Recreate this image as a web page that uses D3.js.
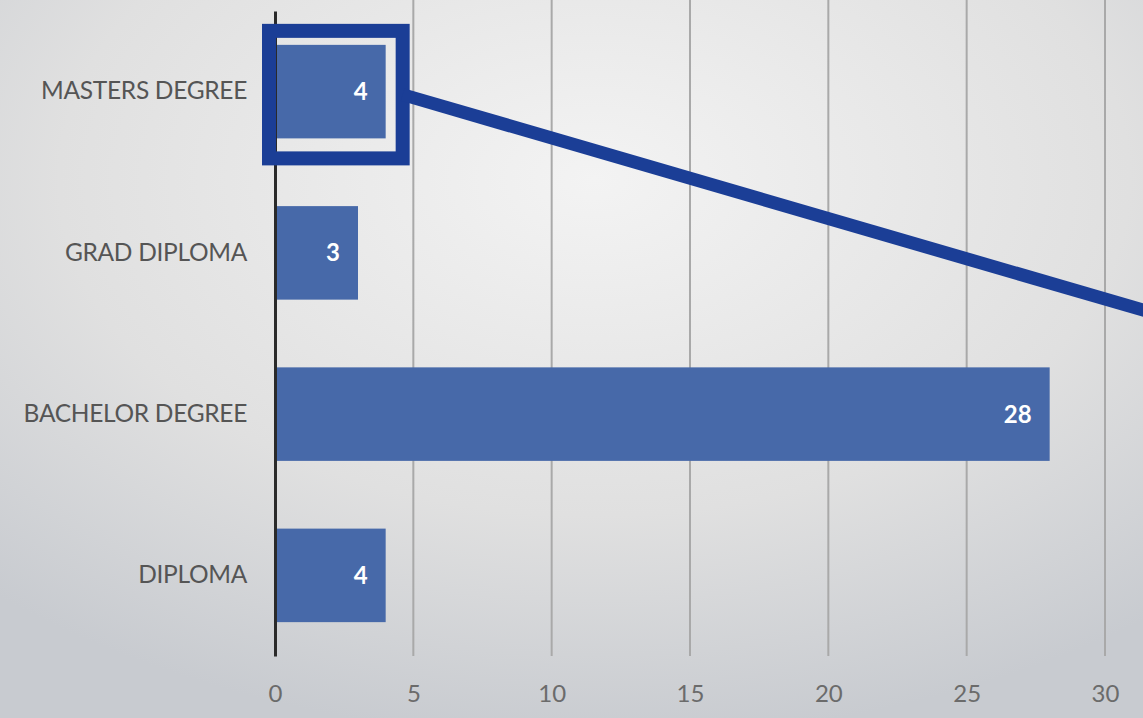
<!DOCTYPE html>
<html>
<head>
<meta charset="utf-8">
<script src="https://d3js.org/d3.v7.min.js"></script>
<style>
  html, body { margin: 0; padding: 0; overflow: hidden; }
  svg { display: block; }
</style>
</head>
<body>
<div id="chart"></div>
<script>
    // data
    var categories = ["MASTERS DEGREE", "GRAD DIPLOMA", "BACHELOR DEGREE", "DIPLOMA"];
    var counts = [4, 3, 28, 4];
    var xTicks = [0, 5, 10, 15, 20, 25, 30];
    var highlighted = "MASTERS DEGREE";

    var width = 1143, height = 718;
    var barColor = "#4769a9", markColor = "#1b3e96";

    const svg = d3.select("#chart").append("svg")
        .attr("width", width)
        .attr("height", height);

    // soft grey background like the slide
    const grad = svg.append("defs").append("radialGradient")
        .attr("id", "bg")
        .attr("cx", "52%").attr("cy", "25%").attr("r", "78%");
    grad.append("stop").attr("offset", "0%").attr("stop-color", "#f3f3f3");
    grad.append("stop").attr("offset", "60%").attr("stop-color", "#e0e0e0");
    grad.append("stop").attr("offset", "100%").attr("stop-color", "#c8cbd0");
    svg.append("rect")
        .attr("width", width).attr("height", height)
        .attr("fill", "url(#bg)");

    const x = d3.scaleLinear()
        .domain([0, 30])
        .range([275, 1105]);

    const y = d3.scaleBand()
        .domain(categories)
        .range([11, 656])
        .paddingInner(0.42)
        .paddingOuter(0.21);

    // vertical gridlines
    svg.append("g")
        .selectAll("line")
        .data(xTicks.filter(d => d > 0))
        .join("line")
        .attr("x1", d => x(d)).attr("x2", d => x(d))
        .attr("y1", 0).attr("y2", 656)
        .attr("stroke", "#a9a9a9")
        .attr("stroke-width", 2);

    // x tick labels
    const xAxis = svg.append("g")
        .attr("transform", "translate(0,685)")
        .call(d3.axisBottom(x).tickValues(xTicks).tickSize(0).tickPadding(0));
    xAxis.select(".domain").remove();
    xAxis.selectAll("text")
        .attr("font-family", "Lato, 'Open Sans', sans-serif")
        .attr("font-size", "24px")
        .attr("fill", "#6b6b6b");

    // bars
    svg.append("g")
        .selectAll("rect")
        .data(categories)
        .join("rect")
        .attr("x", x(0))
        .attr("y", d => y(d))
        .attr("width", (d, i) => x(counts[i]) - x(0))
        .attr("height", y.bandwidth())
        .attr("fill", barColor);

    // category axis
    const yAxis = svg.append("g")
        .attr("transform", `translate(${x(0)},0)`)
        .call(d3.axisLeft(y).tickSize(0).tickPadding(28));
    yAxis.select(".domain")
        .attr("stroke", "#2a2a2a")
        .attr("stroke-width", 3);
    yAxis.selectAll("text")
        .attr("font-family", "Lato, 'Open Sans', sans-serif")
        .attr("font-size", "24.5px")
        .attr("letter-spacing", "-0.3px")
        .attr("fill", "#555");

    // value labels
    svg.append("g")
        .selectAll("text")
        .data(categories)
        .join("text")
        .attr("x", (d, i) => x(counts[i]) - 18)
        .attr("y", d => y(d) + y.bandwidth() / 2)
        .attr("dy", "0.35em")
        .attr("text-anchor", "end")
        .attr("font-family", "Lato, 'Open Sans', sans-serif")
        .attr("font-weight", "bold")
        .attr("font-size", "24px")
        .attr("fill", "white")
        .text((d, i) => counts[i]);

    // highlight box + pointer line
    var hi = categories.indexOf(highlighted);
    var bx0 = x(0) - 6, bx1 = x(counts[hi]) + 17;
    var by0 = y(highlighted) - 14, by1 = y(highlighted) + y.bandwidth() + 20;
    svg.append("rect")
        .attr("x", bx0).attr("y", by0)
        .attr("width", bx1 - bx0).attr("height", by1 - by0)
        .attr("fill", "none")
        .attr("stroke", markColor)
        .attr("stroke-width", 14);
    svg.append("line")
        .attr("x1", bx1).attr("y1", (by0 + by1) / 2)
        .attr("x2", width + 10).attr("y2", 313)
        .attr("stroke", markColor)
        .attr("stroke-width", 13);
</script>
</body>
</html>
